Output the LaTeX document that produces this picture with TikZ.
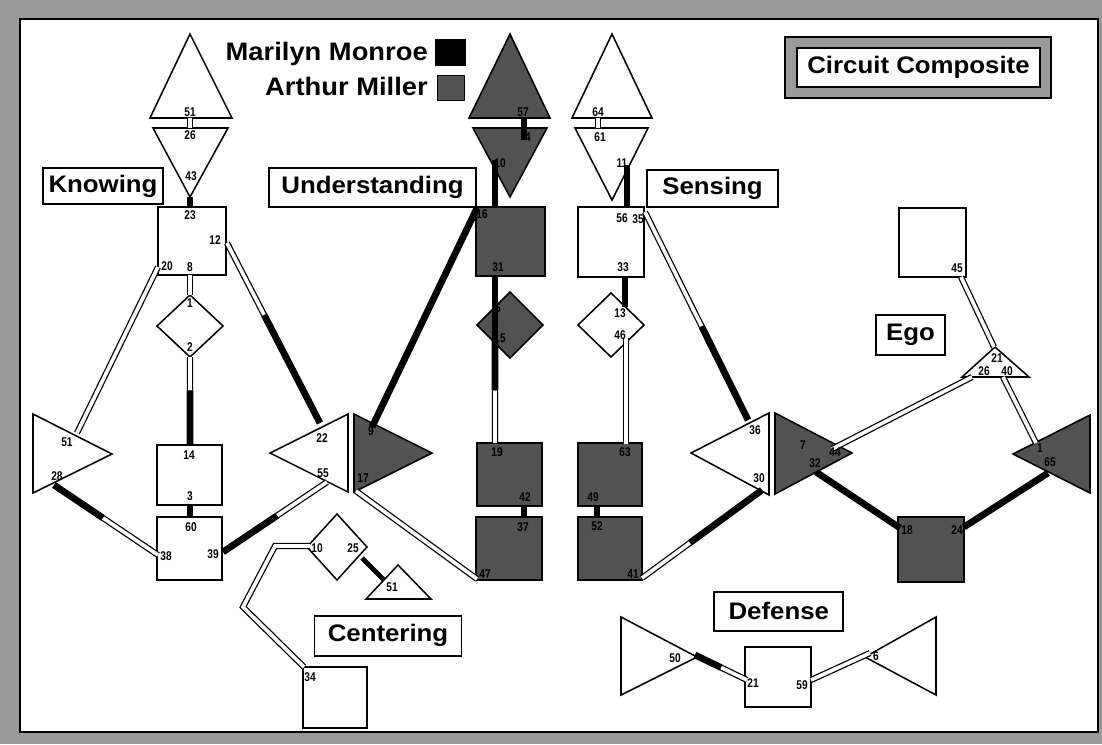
\documentclass[tikz,border=0pt]{standalone}
\usepackage{fontspec}
\setmainfont{Liberation Sans}
\newfontfamily\boxfont{Liberation Sans}[FakeStretch=1.08]
\newfontfamily\numfont{Liberation Sans}[FakeStretch=0.8]
\usetikzlibrary{calc}
\definecolor{miller}{gray}{0.32}
\definecolor{framegrey}{gray}{0.6}
\tikzset{
  shp/.style={draw=black,line width=1.1pt,fill=white},
  greyshp/.style={shp,fill=miller},
  sq/.style={shp,rectangle,inner sep=0pt},
  greysq/.style={sq,fill=miller},
  lblbox/.style={draw=black,line width=1.3pt,fill=white,inner sep=0pt,font=\boxfont\bfseries\fontsize{17}{17}\selectfont},
  legend/.style={inner sep=0pt,font=\boxfont\bfseries\fontsize{18}{18}\selectfont},
  num/.style={inner sep=0pt,font=\numfont\bfseries\fontsize{9}{9}\selectfont},
  dbl/.style={draw=black,line width=0.9pt,double=white,double distance=2.6pt},
  blk/.style={draw=black,line width=4.8pt}}
% double part from #1, black part up to #2, #3 = share of the double part
\newcommand{\mixwire}[3]{%
  \draw[dbl] (#1) -- ($(#1)!#3!(#2)$);
  \draw[blk] ($(#1)!#3!(#2)$) -- (#2);}
% diamond: centre x, centre y, half width, half height
\newcommand{\diam}[5][shp]{%
  \draw[#1] ({#2},{#3-#5}) -- ({#2+#4},{#3}) -- ({#2},{#3+#5}) -- ({#2-#4},{#3}) -- cycle;}
\begin{document}
\begin{tikzpicture}[x=0.025cm,y=-0.025cm]
  \useasboundingbox (0,0) rectangle (1102,744);
  % frame
  \fill[framegrey] (0,0) rectangle (1102,744);
  \draw[fill=white,line width=1.5pt] (20,19) rectangle (1098,732);

  % legend and title
  \node[legend,anchor=base east] (mm) at (428,60) {Marilyn Monroe};
  \node[legend,anchor=base east] (am) at (428,95) {Arthur Miller};
  \node[draw,fill=black,minimum width=0.75cm,minimum height=0.65cm] (mmkey) at (450,52) {};
  \node[draw,fill=miller,minimum width=0.675cm,minimum height=0.625cm] (amkey) at (450.5,87.5) {};
  \draw[fill=framegrey,line width=1.1pt] (785,37) rectangle (1051,98);
  \node[lblbox,minimum width=6.075cm,minimum height=0.975cm] (circuit) at (918.5,67.5) {Circuit Composite};

  % group labels
  \node[lblbox,minimum width=3.0cm,minimum height=0.9cm] (knowing) at (103,186) {Knowing};
  \node[lblbox,minimum width=5.175cm,minimum height=0.975cm] (understanding) at (372.5,187.5) {Understanding};
  \node[lblbox,minimum width=3.275cm,minimum height=0.925cm] (sensing) at (712.5,188.5) {Sensing};
  \node[lblbox,minimum width=1.725cm,minimum height=1.0cm] (ego) at (910.5,335) {Ego};
  \node[lblbox,minimum width=3.675cm,minimum height=1.0cm] (centering) at (388,635.7) {Centering};
  \node[lblbox,minimum width=3.225cm,minimum height=0.975cm] (defense) at (778.8,611.3) {Defense};

  % Knowing
  \draw[shp] (190,34) -- (232,118) -- (150,118) -- cycle;
  \draw[shp] (153,128) -- (228,128) -- (190,197) -- cycle;
  \node[sq,minimum width=1.7cm,minimum height=1.7cm] (k23) at (192,241) {};
  \diam{190}{326}{33}{31}
  \node[sq,minimum width=1.625cm,minimum height=1.5cm] (k14) at (189.5,475) {};
  \node[sq,minimum width=1.625cm,minimum height=1.575cm] (k60) at (189.5,548.5) {};
  \draw[shp] (33,414) -- (112,454) -- (33,493) -- cycle;
  \draw[shp] (270,453) -- (348,414) -- (348,492) -- cycle;

  % Understanding
  \draw[greyshp] (510,34) -- (550,118) -- (469,118) -- cycle;
  \draw[greyshp] (473,128) -- (547,128) -- (510,197) -- cycle;
  \node[greysq,minimum width=1.725cm,minimum height=1.725cm] (u1) at (510.5,241.5) {};
  \diam[greyshp]{510}{325}{33}{33}
  \node[greysq,minimum width=1.625cm,minimum height=1.575cm] (u2) at (509.5,474.5) {};
  \node[greysq,minimum width=1.65cm,minimum height=1.575cm] (u3) at (509,548.5) {};
  \draw[greyshp] (354,414) -- (432,453) -- (354,492) -- cycle;

  % Sensing
  \draw[shp] (612,34) -- (652,118) -- (572,118) -- cycle;
  \draw[shp] (575,128) -- (648,128) -- (612,200) -- cycle;
  \node[sq,minimum width=1.65cm,minimum height=1.75cm] (s56) at (611,242) {};
  \diam{611}{325}{33}{32}
  \node[greysq,minimum width=1.6cm,minimum height=1.575cm] (s4) at (610,474.5) {};
  \node[greysq,minimum width=1.6cm,minimum height=1.575cm] (s5) at (610,548.5) {};
  \draw[shp] (691,453) -- (769,413) -- (769,495) -- cycle;

  % Ego
  \node[sq,minimum width=1.675cm,minimum height=1.725cm] (e45) at (932.5,242.5) {};
  \draw[shp] (995,347) -- (1029,377) -- (962,377) -- cycle;
  \draw[greyshp] (775,413) -- (852,453) -- (775,494) -- cycle;
  \draw[greyshp] (1013,454) -- (1090,415) -- (1090,493) -- cycle;
  \node[greysq,minimum width=1.65cm,minimum height=1.625cm] (e2) at (931,549.5) {};

  % Centering
  \diam{337}{547}{30}{33}
  \draw[shp] (398,565) -- (431,599) -- (366,599) -- cycle;
  \node[sq,minimum width=1.6cm,minimum height=1.525cm] (c34) at (335,697.5) {};

  % Defense
  \draw[shp] (621,617) -- (697,657) -- (621,695) -- cycle;
  \node[sq,minimum width=1.65cm,minimum height=1.5cm] (d21) at (778,677) {};
  \draw[shp] (865,657) -- (936,617) -- (936,695) -- cycle;

  % connector ends
  \foreach \n/\x/\y in {k51a/190/118,k26a/190/128,k43a/190/197,k23a/190/207,k8a/190/275,k1a/190/295,
      k2a/190/357,k14a/190/445,k3a/190/505,k60a/190/517,k20a/158/267,k51b/77/433,k12a/227/243,
      k22a/320/423,k28a/54/485,k38a/158/555,k55a/327/482,k39a/223/552,
      u57a/524/118,u4a/524/140,u10a/495/160,u1a/495/207,u1b/495/276,udia/495/340,u2a/495/443,
      u2b/524/506,u3a/524/517,utria/372/427,u1c/477/208,utrib/356/491,u3b/477/579,
      s64a/598/118,s61a/598/128,s11a/627/165,s56a/627/207,s33a/625/277,s13a/625/307,s46a/626/338,
      s4a/626/444,s35a/645/212,s36a/748/420,s4b/597/506,s5a/597/517,s5b/642/578,s30a/762/490,
      e45a/961/277,e21a/994/347,e26a/972/377,elta/832/449,e40a/1003/377,erta/1036/443,
      eltb/816/472,e2a/900/528,ertb/1048/473,e2b/964/527,
      c25a/362/558,c51a/384/580,c10a/310/546,cb1/275/546,cb2/243/607,c34a/304/667,
      d50a/695/655,d21a/747/680,d59a/811/680,d6a/870/653}
    \coordinate (\n) at (\x,\y);

  % wires
  \draw[dbl] (k51a) -- (k26a);
  \draw[blk] (k43a) -- (k23a);
  \draw[dbl] (k8a) -- (k1a);
  \mixwire{k2a}{k14a}{0.38}
  \draw[dbl] (k20a) -- (k51b);
  \mixwire{k12a}{k22a}{0.4}
  \mixwire{k38a}{k28a}{0.53}
  \draw[blk] (k3a) -- (k60a);
  \mixwire{k55a}{k39a}{0.48}

  \draw[blk] (u57a) -- (u4a);
  \draw[blk] (u10a) -- (u1a);
  \draw[blk] (u1b) -- (udia);
  \mixwire{u2a}{udia}{0.51}
  \draw[blk] (u2b) -- (u3a);
  \draw[blk] (utria) -- (u1c);
  \draw[dbl] (utrib) -- (u3b);

  \draw[dbl] (s64a) -- (s61a);
  \draw[blk] (s11a) -- (s56a);
  \draw[blk] (s33a) -- (s13a);
  \draw[dbl] (s46a) -- (s4a);
  \mixwire{s35a}{s36a}{0.55}
  \draw[blk] (s4b) -- (s5a);
  \mixwire{s5b}{s30a}{0.4}

  \draw[dbl] (e45a) -- (e21a);
  \draw[dbl] (e26a) -- (elta);
  \draw[dbl] (e40a) -- (erta);
  \draw[blk] (eltb) -- (e2a);
  \draw[blk] (ertb) -- (e2b);

  \draw[blk,line width=3.5pt] (c25a) -- (c51a);
  \draw[dbl] (c10a) -- (cb1) -- (cb2) -- (c34a);

  \mixwire{d21a}{d50a}{0.5}
  \draw[dbl] (d59a) -- (d6a);

  % port numbers
  \foreach \n/\x/\y/\t in {kn51/190/112/51,kn26/190/135/26,kn43/191/176/43,kn23/190/215/23,
      kn12/215/240/12,kn20/167/266/20,kn8/190/267/8,kn1/190/303/1,kn2/190/347/2,kn14/189/455/14,
      kn3/190/496/3,kn60/191/527/60,kn38/166/556/38,kn39/213/554/39,knl51/67/442/51,kn28/57/476/28,
      kn22/322/438/22,kn55/323/473/55,
      un57/523/112/57,un4/528/137/4,un10/500/163/10,un16/482/214/16,un31/498/267/31,un5/498/308/5,
      un15/500/338/15,un19/497/452/19,un42/525/497/42,un37/523/527/37,un47/485/574/47,
      unt1/371/431/9,unt2/363/478/17,
      sn64/598/112/64,sn61/600/137/61,sn11/622/163/11,sn56/622/218/56,sn35/638/219/35,sn33/623/267/33,
      sn13/620/313/13,sn46/620/335/46,sn36/755/430/36,sn30/759/478/30,
      sn63/625/452/63,sn49/593/497/49,sn52/597/526/52,sn41/633/574/41,
      en45/957/268/45,en21/997/358/21,en26/984/371/26,en40/1007/371/40,
      en7/803/445/7,en44/835/452/44,en12/815/463/32,en1/1040/448/1,en65/1050/462/65,
      en18/907/530/18,en24/957/530/24,
      cn10/317/548/10,cn25/353/548/25,cn51/392/587/51,cn34/310/677/34,
      dn50/675/658/50,dn21/753/683/21,dn59/802/685/59,dn6/876/656/6}
    \node[num] (\n) at (\x,\y) {\t};
\end{tikzpicture}
\end{document}
